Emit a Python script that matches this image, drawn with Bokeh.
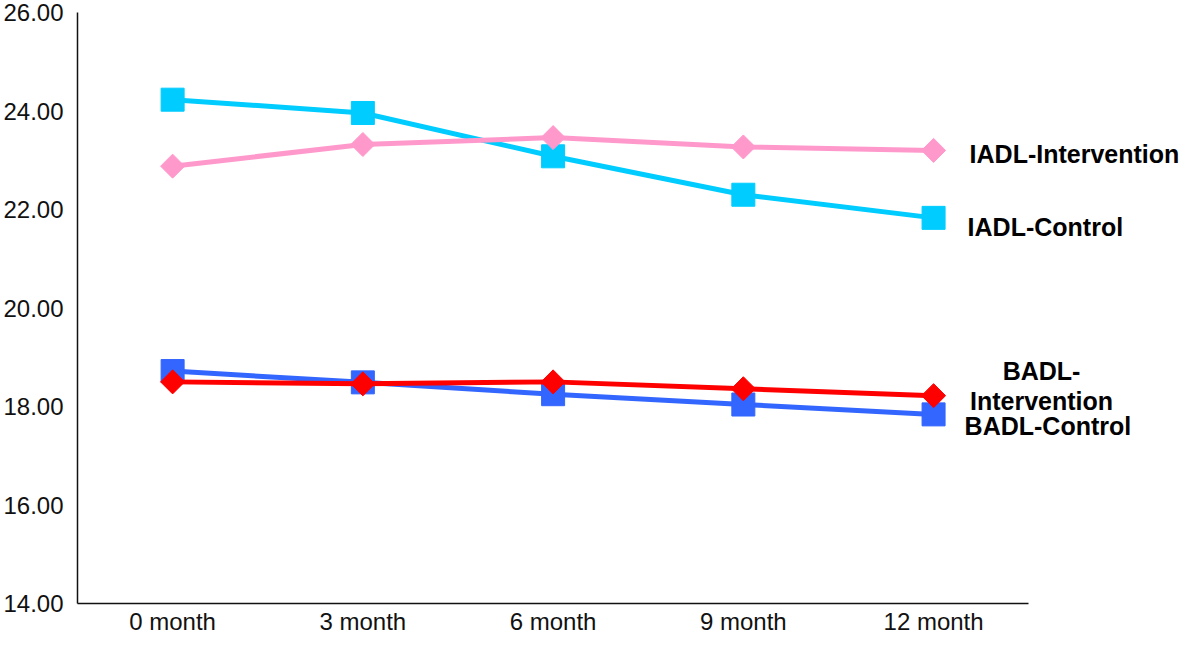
import numpy as np
from bokeh.plotting import figure
from bokeh.models import Range1d, FixedTicker, NumeralTickFormatter
from bokeh.core.properties import value
from bokeh.embed import file_html
from bokeh.resources import INLINE

months = ["0 month", "3 month", "6 month", "9 month", "12 month"]
iadl_control = [24.23, 23.96, 23.08, 22.30, 21.83]
iadl_intervention = [22.88, 23.32, 23.46, 23.27, 23.20]
badl_control = [18.72, 18.49, 18.25, 18.04, 17.84]
badl_intervention = [18.50, 18.46, 18.50, 18.36, 18.22]
y_ticks = [14, 16, 18, 20, 22, 24, 26]

xs = list(range(len(months)))

p = figure(width=1184, height=637, output_backend="svg", toolbar_location=None,
           x_range=Range1d(-0.5, 5.319), y_range=Range1d(14, 26),
           min_border_left=76, min_border_right=0, min_border_top=12, min_border_bottom=32)
p.outline_line_color = None
p.xgrid.visible = False
p.ygrid.visible = False
p.background_fill_color = "white"

FONT = "Liberation Sans"

p.xaxis.ticker = FixedTicker(ticks=xs)
p.xaxis.major_label_overrides = {i: m for i, m in enumerate(months)}
p.xaxis.bounds = (-0.5, 4.5)
p.yaxis.ticker = FixedTicker(ticks=y_ticks)
p.yaxis.formatter = NumeralTickFormatter(format="0.00")
for ax in (p.xaxis, p.yaxis):
    ax.major_tick_line_color = None
    ax.minor_tick_line_color = None
    ax.major_tick_in = 0
    ax.major_tick_out = 0
    ax.axis_line_color = "#111111"
    ax.axis_line_width = 1.5
    ax.major_label_text_font = FONT
    ax.major_label_text_font_size = "24px"
    ax.major_label_text_color = "#111111"
p.yaxis.major_label_standoff = 14
p.xaxis.major_label_standoff = 4

series = [
    (iadl_control, "#00CCFF", "square", 0.0, 23),
    (iadl_intervention, "#FF99CC", "square", np.pi / 4, 17),
    (badl_control, "#3366FF", "square", 0.0, 23),
    (badl_intervention, "#FF0000", "square", np.pi / 4, 17),
]
for vals, color, marker, ang, size in series:
    p.line(xs, vals, line_color=color, line_width=5)
    p.scatter(xs, vals, marker=marker, angle=ang, size=size, fill_color=color, line_color=color)

labels = [
    ("IADL-Intervention", iadl_intervention, 36, 4, "left", 1.2),
    ("IADL-Control", iadl_control, 34, 9, "left", 1.2),
    ("BADL-\nIntervention", badl_intervention, 108, -10, "center", 1.08),
    ("BADL-Control", badl_control, 31, 12, "left", 1.2),
]
for txt, vals, xo, yo, align, lh in labels:
    p.text(x=[xs[-1]], y=[vals[-1]], text=[txt], x_offset=xo, y_offset=yo,
           text_align=align, text_baseline="middle", text_font=value(FONT),
           text_font_style="bold", text_font_size="25px", text_color="#000000",
           text_line_height=lh)

open("out.html", "w").write(file_html(p, INLINE))
